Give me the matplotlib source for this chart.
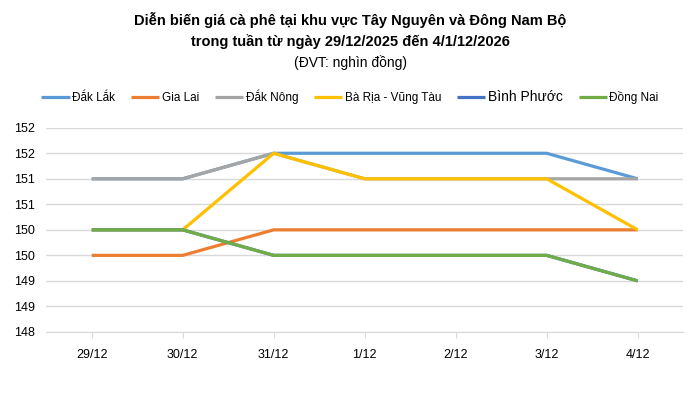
import math
import matplotlib
matplotlib.use("Agg")
import matplotlib.pyplot as plt
from matplotlib.ticker import FixedLocator, FuncFormatter

# ngày trong tuần
days = ["29/12", "30/12", "31/12", "1/12", "2/12", "3/12", "4/12"]

dak_lak = [151, 151, 151.5, 151.5, 151.5, 151.5, 151]
gia_lai = [149.5, 149.5, 150, 150, 150, 150, 150]
dak_nong = [151, 151, 151.5, 151, 151, 151, 151]
ba_ria = [150, 150, 151.5, 151, 151, 151, 150]
binh_phuoc = [150, 150, 149.5, 149.5, 149.5, 149.5, 149]
dong_nai = [150, 150, 149.5, 149.5, 149.5, 149.5, 149]

series = [
    ("Đắk Lắk", dak_lak, "#5B9BD5"),
    ("Gia Lai", gia_lai, "#ED7D31"),
    ("Đắk Nông", dak_nong, "#A5A5A5"),
    ("Bà Rịa - Vũng Tàu", ba_ria, "#FFC000"),
    ("Bình Phước", binh_phuoc, "#4472C4"),
    ("Đồng Nai", dong_nai, "#70AD47"),
]

plt.rcParams['font.family'] = ['Liberation Sans', 'DejaVu Sans']

fig = plt.figure(figsize=(7, 3.98), dpi=100)
ax = fig.add_axes([0.066, 0.166, 0.91, 0.513])

x = range(len(days))
for name, vals, col in series:
    ax.plot(x, vals, color=col, lw=2.3, label=name, solid_capstyle='butt')

ax.set_xlim(-0.5, len(days) - 0.5)
ax.set_ylim(148, 152)
ax.yaxis.set_major_locator(FixedLocator([148 + 0.5 * i for i in range(9)]))
# Excel làm tròn nhãn về số nguyên
ax.yaxis.set_major_formatter(FuncFormatter(lambda v, p: "%d" % math.floor(v + 0.5)))
ax.set_xticks(list(x))
ax.set_xticklabels(days)
ax.grid(axis='y', color='#D9D9D9', lw=1)
ax.set_axisbelow(True)
for s in ['top', 'right', 'left']:
    ax.spines[s].set_visible(False)
ax.spines['bottom'].set_color('#D9D9D9')
ax.tick_params(axis='y', length=0, labelsize=9, pad=8)
ax.tick_params(axis='x', length=4, color='#D9D9D9', labelsize=9, pad=8)

fig.text(0.5, 0.95, "Diễn biến giá cà phê tại khu vực Tây Nguyên và Đông Nam Bộ",
         ha='center', va='center', fontsize=10.5, fontweight='bold')
fig.text(0.5, 0.895, "trong tuần từ ngày 29/12/2025 đến 4/1/12/2026",
         ha='center', va='center', fontsize=10.5, fontweight='bold')
fig.text(0.5, 0.843, "(ĐVT: nghìn đồng)", ha='center', va='center', fontsize=10)

leg = fig.legend(loc='center', bbox_to_anchor=(0.5, 0.756), ncol=6, frameon=False,
                 fontsize=8.5, handlelength=2.4, handletextpad=0.2, columnspacing=1.35)
for t in leg.get_texts():
    if t.get_text() == "Bình Phước":
        t.set_fontsize(10)

fig.savefig("out.png", dpi=100)
